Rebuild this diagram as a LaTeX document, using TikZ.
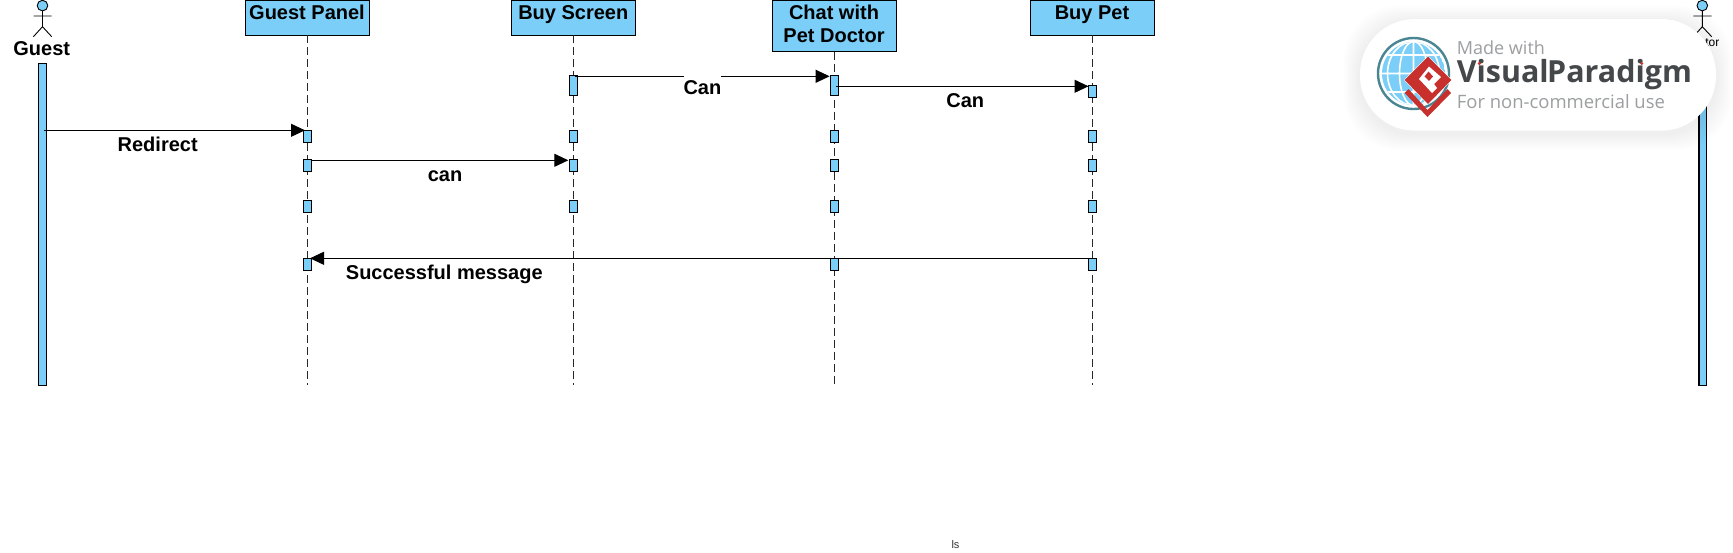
\documentclass[tikz,border=0pt]{standalone}
\usepackage{fontspec}
\usepackage{graphicx}
\setmainfont{Liberation Sans}
\newfontfamily\badgefont{Open Sans}
\usetikzlibrary{arrows.meta}
\definecolor{vpblue}{HTML}{7ACEF7}
\definecolor{vpred}{HTML}{C8302D}
\definecolor{vpteal}{HTML}{4A8594}
\definecolor{vpdark}{HTML}{45484B}
\definecolor{vpgrey}{HTML}{9C9EA0}
\tikzset{
  x=1pt,y=-1pt,
  objbox/.style={draw=black,line width=1pt,fill=vpblue,inner sep=0pt,outer sep=0pt,anchor=north west},
  objtext/.style={font=\fontsize{20}{24}\selectfont\bfseries,inner sep=0pt,anchor=base},
  lifeline/.style={draw=black!85,line width=1pt,dash pattern=on 8pt off 4pt},
  actv/.style={draw=black,line width=1pt,fill=vpblue,inner sep=0pt,outer sep=0pt,minimum width=8pt,minimum height=12.4pt,anchor=north},
  actvtall/.style={actv,minimum height=20pt},
  msg/.style={draw=black,line width=1pt,-{Triangle[length=14pt,width=13pt]}},
  msgtext/.style={font=\fontsize{20}{24}\selectfont\bfseries,inner sep=0pt,anchor=base},
  stick/.style={draw=black,line width=0.9pt},
  bar/.style={draw=black,line width=1.2pt,fill=vpblue,inner sep=0pt,outer sep=0pt,minimum width=7.6pt,minimum height=322pt,anchor=north}
}
\begin{document}
\begin{tikzpicture}
\useasboundingbox (0,0) rectangle (1733,552);
\fill[white] (0,0) rectangle (1733,552);

% lifeline heads
\node[objbox,minimum width=124.4pt,minimum height=35.3pt] (gp) at (245.3,0) {};
\node[objbox,minimum width=124pt,minimum height=35.3pt] (bs) at (511.3,0) {};
\node[objbox,minimum width=124.5pt,minimum height=51.7pt] (cd) at (772.3,0) {};
\node[objbox,minimum width=124.5pt,minimum height=35.3pt] (bp) at (1030,0) {};
\node[objtext] (gpt) at (307,19) {Guest Panel};
\node[objtext] (bst) at (573.3,19) {Buy Screen};
\node[objtext] (cdt1) at (834,19) {Chat with};
\node[objtext] (cdt2) at (834,42.7) {Pet Doctor};
\node[objtext] (bpt) at (1092,19) {Buy Pet};

% lifeline ends
\coordinate (gpe) at (307.3,385);
\coordinate (bse) at (573.3,385);
\coordinate (cde) at (834.8,385);
\coordinate (bpe) at (1092,385);
\draw[lifeline] (gp.south -| gpe) -- (gpe);
\draw[lifeline] (bs.south -| bse) -- (bse);
\draw[lifeline] (cd.south -| cde) -- (cde);
\draw[lifeline] (bp.south -| bpe) -- (bpe);

% activations
\node[actv] (g1) at (307.3,130.3) {};
\node[actv] (g2) at (307.3,159.3) {};
\node[actv] (g3) at (307.3,200.3) {};
\node[actv] (g4) at (307.3,258.3) {};
\node[actvtall] (s0) at (573.3,75.3) {};
\node[actv] (s1) at (573.3,130.3) {};
\node[actv] (s2) at (573.3,159.3) {};
\node[actv] (s3) at (573.3,200.3) {};
\node[actvtall] (c0) at (834.8,75.3) {};
\node[actv] (c1) at (834.8,130.3) {};
\node[actv] (c2) at (834.8,159.3) {};
\node[actv] (c3) at (834.8,200.3) {};
\node[actv] (c4) at (834.8,258.3) {};
\node[actv] (p0) at (1092,85.3) {};
\node[actv] (p1) at (1092,130.3) {};
\node[actv] (p2) at (1092,159.3) {};
\node[actv] (p3) at (1092,200.3) {};
\node[actv] (p4) at (1092,258.3) {};

% actors
\node[bar] (gbar) at (42.5,63.3) {};
\draw[stick,fill=vpblue] (42.5,5.6) circle (5.3);
\draw[stick] (42.5,10.9) -- (42.5,26.7) (33.7,16) -- (51.7,16) (33.4,36.7) -- (42.5,26.7) -- (51.7,36.7);
\node[msgtext] (gname) at (41.7,55) {Guest};

\node[bar] (dbar) at (1702.7,63.3) {};
\draw[stick,fill=vpblue] (1702.3,5.6) circle (5.3);
\draw[stick] (1702.3,10.9) -- (1702.3,26.7) (1693.3,16) -- (1711.7,16) (1693.3,36.7) -- (1702.3,26.7) -- (1711.7,36.7);
\node[font=\fontsize{12}{14}\selectfont,inner sep=0pt,anchor=base] (dname) at (1712.3,46.8) {tor};

% messages
\coordinate (m1s) at (44.4,130.3);
\coordinate (m1e) at (305,130.3);
\coordinate (m2s) at (312,160.3);
\coordinate (m2e) at (568.3,160.3);
\coordinate (m3s) at (574.6,76.3);
\coordinate (m3e) at (829.6,76.3);
\coordinate (m4s) at (836,86.3);
\coordinate (m4e) at (1088.5,86.3);
\coordinate (m5s) at (1092,258.3);
\coordinate (m5e) at (310,258.3);
\draw[msg] (m1s) -- (m1e);
\draw[msg] (m2s) -- (m2e);
\draw[msg] (m3s) -- (m3e);
\draw[msg] (m4s) -- (m4e);
\draw[msg] (m5s) -- (m5e);
\node[msgtext] (l1) at (157.7,151) {Redirect};
\node[msgtext] (l2) at (445,181) {can};
\node[font=\fontsize{20}{24}\selectfont\bfseries,inner sep=0pt,fill=white,minimum width=37.3pt,minimum height=29pt] (l3) at (702.4,88) {Can};
\node[msgtext] (l4) at (965.3,107) {Can};
\node[msgtext] (l5) at (444.3,279) {Successful message};

% stray caption
\node[font=\fontsize{11}{13}\selectfont,text=black!80,inner sep=0pt] (cap) at (955.5,544.5) {ls};

% badge shadow and body
\foreach \s in {16,14,...,2}{
  \fill[black,opacity=0.009,rounded corners=55pt] (1360-\s,19+3-\s) rectangle (1716+\s,130.7+3+\s);
}
\fill[white,rounded corners=55pt] (1360,19) rectangle (1716,130.7);

% globe
\begin{scope}
  \clip (1413.5,73.5) circle (31.5);
  \fill[vpblue] (1413.5,73.5) circle (31.5);
  \draw[white,line width=1.6pt] (1413.5,73.5) ellipse (14 and 32) (1413.5,40) -- (1413.5,107)
    (1379,73.5) -- (1448,73.5) (1379,55) -- (1448,55) (1379,92) -- (1448,92)
    (1413.5,73.5) ellipse (26 and 32);
\end{scope}
\draw[vpteal,line width=2.4pt] (1413.5,73.5) circle (35.5);

% logo mark
\fill[vpred] (1404.7,93) -- (1427.5,117) -- (1451,93) -- (1447.5,89) -- (1427.5,110) -- (1408.5,89) -- cycle;
\draw[white,line width=1pt] (1404.7,80) -- (1428,56.5) -- (1451.3,80) -- (1428,104) -- cycle;
\fill[vpred] (1404.7,80) -- (1428,56.5) -- (1451.3,80) -- (1428,104) -- cycle;
\fill[white] (1419,79) -- (1429,66.5) -- (1441,77) -- (1434,84) -- (1437,88) -- (1432,93) -- (1426.5,87) -- cycle;
\fill[vpred] (1428.5,71.5) -- (1433,76.5) -- (1429,81) -- (1424.5,76.5) -- cycle;

% badge texts
\node[anchor=west,inner sep=0pt,text=vpgrey] (bt1) at (1456.7,47.7) {\resizebox{88pt}{!}{\badgefont Made with}};
\node[anchor=west,inner sep=0pt,text=vpdark] (bt2) at (1456.7,75) {\resizebox{235pt}{!}{\badgefont\bfseries Visual\kern-0.05em Paradigm}};
\node[anchor=west,inner sep=0pt,text=vpgrey] (bt3) at (1456.7,101.7) {\resizebox{208pt}{!}{\badgefont For non-commercial use}};
\fill[vpred] (1479.3,63.5) circle (1.7) (1641.7,63.5) circle (1.7);
\end{tikzpicture}
\end{document}
